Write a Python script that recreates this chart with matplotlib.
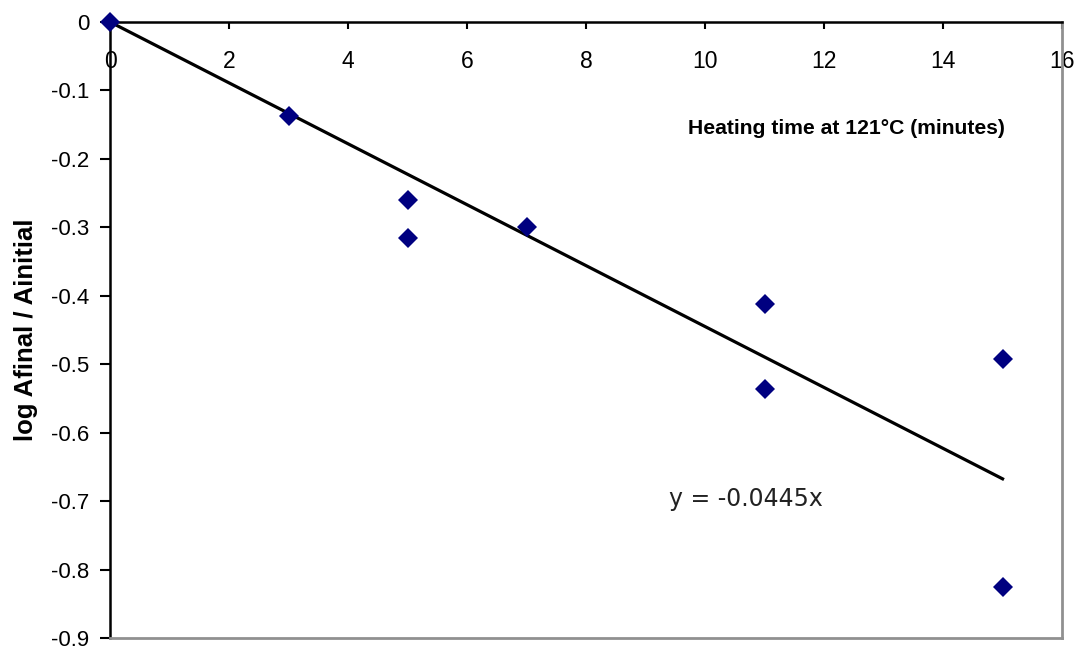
import numpy as np
import matplotlib.pyplot as plt

# heating time (minutes) and log(Afinal/Ainitial)
time_min = [0, 3, 5, 5, 7, 11, 11, 15, 15]
log_ratio = [0.0, -0.137, -0.260, -0.315, -0.300, -0.412, -0.536, -0.492, -0.826]
slope = -0.0445
fit_x = [0, 15]

x_ticks = [0, 2, 4, 6, 8, 10, 12, 14, 16]
y_ticks = [0, -0.1, -0.2, -0.3, -0.4, -0.5, -0.6, -0.7, -0.8, -0.9]

narrow = ['Liberation Sans Narrow', 'Liberation Sans', 'DejaVu Sans']
plt.rcParams['font.family'] = ['Liberation Sans', 'DejaVu Sans']

fig = plt.figure(figsize=(10.8, 6.5), dpi=100)
ax = fig.add_axes([0.1019, 0.0185, 0.8815, 0.9477])

fit_y = [slope * v for v in fit_x]
ax.plot(fit_x, fit_y, color='black', lw=2.3, zorder=2)
ax.plot(time_min, log_ratio, linestyle='none', marker='D', markersize=10.5,
        color='#000080', markeredgewidth=0, zorder=3, clip_on=False)

ax.set_xlim(0, 16)
ax.set_ylim(-0.9, 0)
ax.set_xticks(x_ticks)
ax.set_yticks(y_ticks)
ax.set_xticklabels([str(v) for v in x_ticks], fontsize=16.5, family=narrow)
ax.set_yticklabels(['0' if v == 0 else '%.1f' % v for v in y_ticks],
                   fontsize=16, family=narrow)

# x axis sits at y = 0 (top), labels hanging below it
ax.xaxis.tick_top()
ax.tick_params(axis='x', direction='in', length=5, width=1.5, pad=-37,
               labeltop=True, color='black')
ax.tick_params(axis='y', direction='out', length=7, width=1.5, pad=8, color='black')

for side in ['top', 'left']:
    ax.spines[side].set_color('black')
    ax.spines[side].set_linewidth(1.8)
for side in ['bottom', 'right']:
    ax.spines[side].set_color('#909090')
    ax.spines[side].set_linewidth(2)

ax.text(0.607, 0.8266, 'Heating time at 121°C (minutes)', transform=ax.transAxes,
        fontsize=15.2, fontweight='bold', family=narrow, ha='left', va='center')
ax.set_ylabel('log Afinal / Ainitial', fontsize=18.5, fontweight='bold',
              family=narrow, labelpad=9)
ax.text(0.587, 0.225, 'y = -0.0445x', transform=ax.transAxes, fontsize=17,
        family=['DejaVu Sans'], color='#222222', ha='left', va='center')

fig.savefig('out.png', dpi=100)
